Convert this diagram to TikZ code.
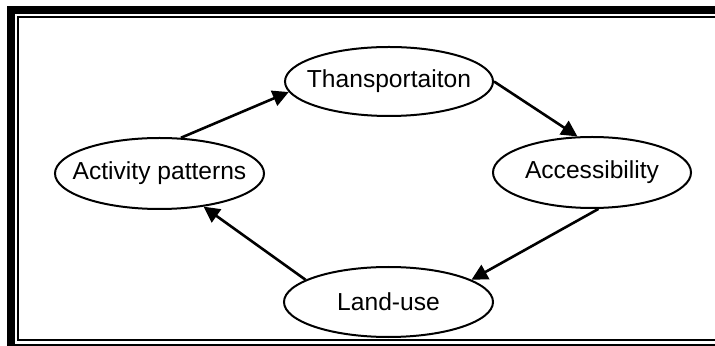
\documentclass[tikz,border=0pt]{standalone}
\usepackage{fontspec}
\setmainfont{Liberation Sans}
\usetikzlibrary{arrows.meta,shapes.geometric}

\begin{document}
\begin{tikzpicture}[
  x=0.5pt,y=-0.5pt,
  factor/.style={draw,ellipse,line width=1pt,inner xsep=-15pt,inner ysep=0pt,font=\fontsize{12.3}{14}\selectfont},
  link/.style={line width=1.3pt,-{Triangle[length=8pt,width=8pt]}},
  outerframe/.style={line width=4pt},
  innerframe/.style={line width=1pt}]
\useasboundingbox (0,0) rectangle (715,346);
% double frame, cut at the right and bottom edges
\draw[outerframe] (730,348) -| (11,10) -- (730,10);
\draw[innerframe] (730,340) -| (18,17) -- (730,17);
\node[factor,minimum width=104pt,minimum height=34.5pt] (trans) at (389,81.5) {Thansportaiton};
\node[factor,minimum width=104.5pt,minimum height=35.5pt] (act) at (159.5,173.5) {Activity patterns};
\node[factor,minimum width=99pt,minimum height=35.5pt] (acc) at (592,172.5) {Accessibility};
\node[factor,minimum width=104.5pt,minimum height=35pt] (land) at (388.5,302) {Land-use};
\draw[link] (act.59) -- (trans.186);
\draw[link] (trans.0) -- (acc.112);
\draw[link] (acc.280) -- (land.15);
\draw[link] (land.165) -- (act.-37);
\end{tikzpicture}
\end{document}
